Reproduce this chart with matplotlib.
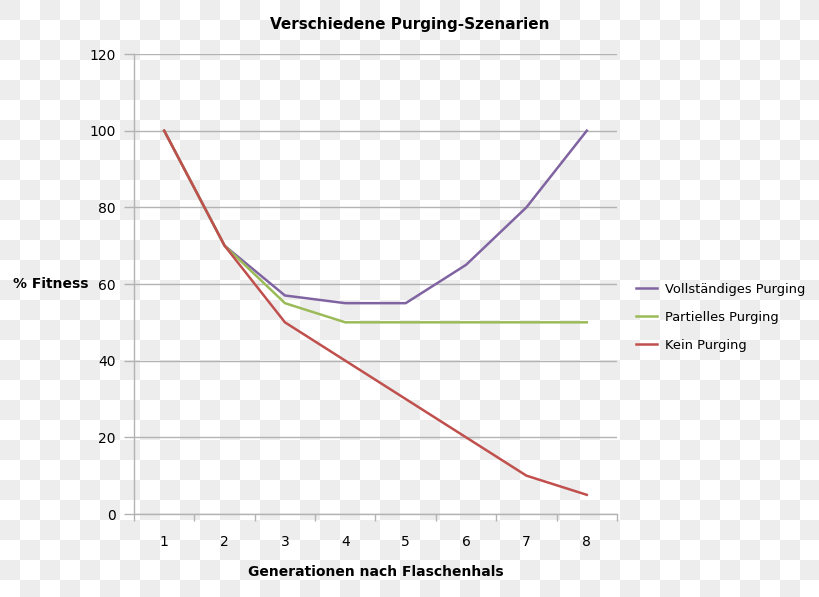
import numpy as np
import matplotlib
matplotlib.use("Agg")
import matplotlib.pyplot as plt

generations = [1, 2, 3, 4, 5, 6, 7, 8]
vollstaendig = [100, 70, 57, 55, 55, 65, 80, 100]
partiell = [100, 70, 55, 50, 50, 50, 50, 50]
kein = [100, 70, 50, 40, 30, 20, 10, 5]

series_names = ["Vollständiges Purging", "Partielles Purging", "Kein Purging"]
series_colors = ["#8064a2", "#9bbb59", "#c0504d"]

W, H = 820, 597
fig = plt.figure(figsize=(W / 100, H / 100), dpi=100)

# checkerboard background (transparency pattern of the reference)
bg = fig.add_axes([0, 0, 1, 1], zorder=-10)
cell = 20
ny, nx = int(np.ceil(H / cell)), int(np.ceil(W / cell))
yy, xx = np.mgrid[0:ny, 0:nx]
checker = np.where((xx + yy) % 2 == 0, 0.928, 1.0)
bg.imshow(checker, cmap="gray", vmin=0, vmax=1, interpolation="nearest",
          extent=[0, nx * cell, ny * cell, 0])
bg.set_xlim(0, W)
bg.set_ylim(H, 0)
bg.axis("off")

left, right, top, bottom = 134, 617, 54, 514
ax = fig.add_axes([left / W, 1 - bottom / H, (right - left) / W, (bottom - top) / H])
ax.set_facecolor("none")

for vals, name, col in zip([vollstaendig, partiell, kein], series_names, series_colors):
    ax.plot(generations, vals, color=col, lw=1.8, label=name)

gray = "#b3b3b3"
ax.set_xlim(0.5, 8.5)
ax.set_ylim(0, 120)
ax.set_yticks(np.arange(0, 121, 20))
ax.set_xticks(generations)
ax.set_xticks(np.arange(0.5, 9, 1), minor=True)
ax.tick_params(axis="x", which="major", length=0, pad=15, labelsize=10)
ax.tick_params(axis="x", which="minor", length=5, color=gray, width=1)
ax.tick_params(axis="y", length=7, color=gray, width=1, pad=6, labelsize=10)
ax.grid(axis="y", color=gray, lw=1)
ax.set_axisbelow(True)
for s in ["top", "right"]:
    ax.spines[s].set_visible(False)
for s in ["left", "bottom"]:
    ax.spines[s].set_color(gray)
    ax.spines[s].set_linewidth(1)

# title is centred on the whole figure, not on the plot area
fig.text(0.5, 1 - 25 / H, "Verschiedene Purging-Szenarien", fontsize=11,
         fontweight="bold", ha="center", va="center")
ax.set_xlabel("Generationen nach Flaschenhals", fontsize=10, fontweight="bold", labelpad=12)
ax.set_ylabel("% Fitness", fontsize=10, fontweight="bold", rotation=0, ha="right", va="center")
ax.yaxis.set_label_coords(-0.095, 0.5)

ax.legend(loc="upper left", bbox_to_anchor=(1.015, 0.528), frameon=False, fontsize=9.4,
          handlelength=1.6, handletextpad=0.6, labelspacing=1.15)

fig.savefig("out.png", dpi=100)
